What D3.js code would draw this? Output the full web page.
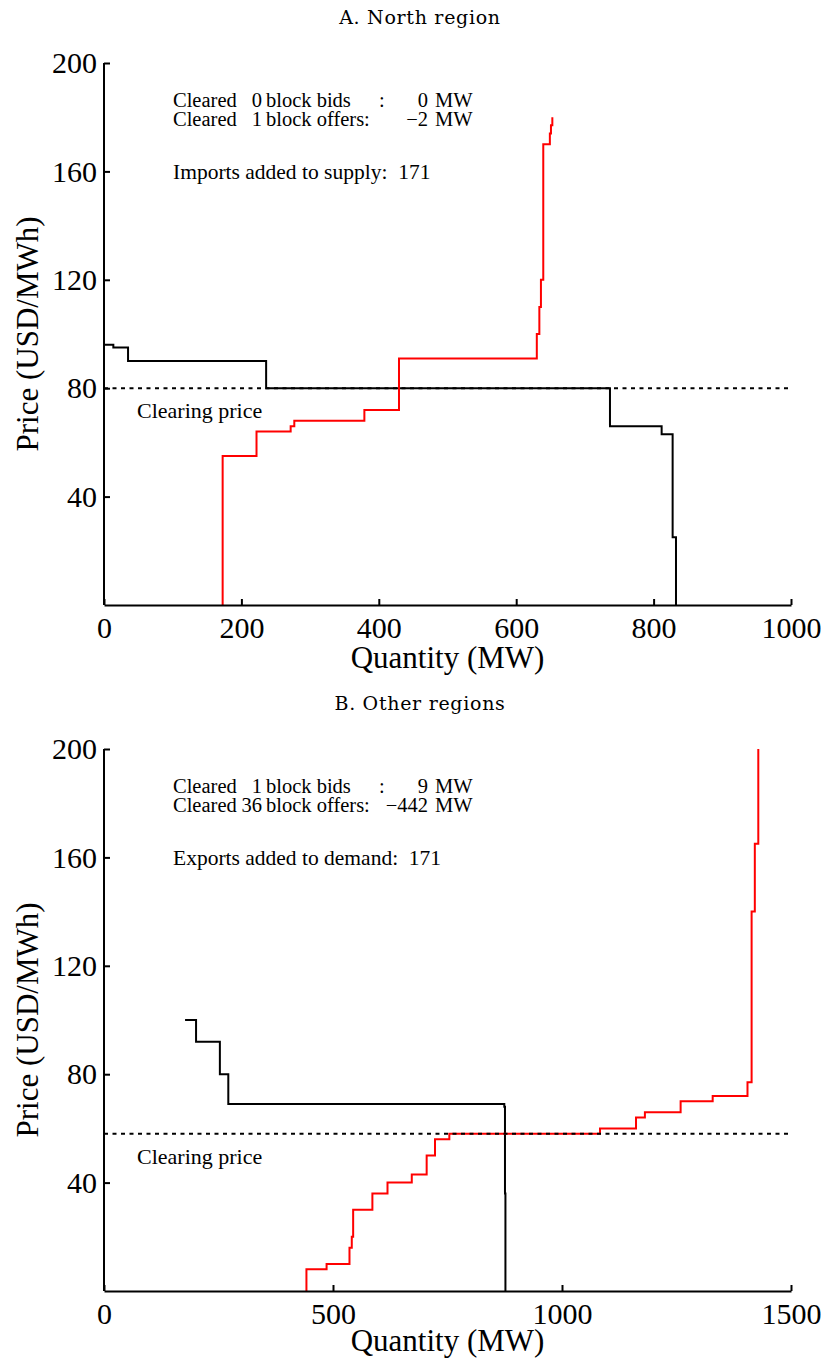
<!DOCTYPE html>
<html>
<head>
<meta charset="utf-8">
<script src="https://cdn.jsdelivr.net/npm/d3@7"></script>
<style>
  body { margin: 0; background: #fff; }
  text { font-family: "Liberation Serif", "Times New Roman", serif; fill: #000; }
</style>
</head>
<body>
<div class="canvas"></div>
<script>
// A. North region
const northDemandQty = [0, 13.6, 35, 236, 736.5, 811.7, 827.7, 832.6]
const northDemandPrice = [96, 95, 90, 80, 66, 63, 25, 0]
const northSupplyQty = [172.7, 172.7, 222, 271.7, 277, 379, 429.4, 630, 633.7, 636, 639.4, 649, 650.6, 652.6]
const northSupplyPrice = [0, 55, 64, 66, 68, 72, 91, 100, 110, 120, 170, 174, 177, 180]
const northClearing = 80
const northXTicks = [0, 200, 400, 600, 800, 1000]
const northNotes = [
  ['Cleared', '0', 'block bids', ':', '0', 'MW'],
  ['Cleared', '1', 'block offers:', '', '\u22122', 'MW']
]
const northExtra = 'Imports added to supply:  171'

// B. Other regions
const otherDemandQty = [177, 201, 253, 271.4, 874, 875.5, 876.5]
const otherDemandPrice = [100, 92, 80, 69, 68, 36, 0]
const otherSupplyQty = [440, 442, 486, 536, 541, 544, 586, 619, 672, 704.5, 722.7, 754, 1083, 1161.6, 1181, 1259, 1329, 1405, 1414, 1421, 1428.6]
const otherSupplyPrice = [0, 8, 10, 16, 20, 30, 36, 40, 43, 50, 56, 58, 60, 64, 66, 70, 72, 77, 140, 165, 200]
const otherClearing = 58
const otherXTicks = [0, 500, 1000, 1500]
const otherNotes = [
  ['Cleared', '1', 'block bids', ':', '9', 'MW'],
  ['Cleared', '36', 'block offers:', '', '\u2212442', 'MW']
]
const otherExtra = 'Exports added to demand:  171'

const yTicks = [40, 80, 120, 160, 200]

const svg = d3.select('.canvas')
  .append('svg')
  .attr('width', 827)
  .attr('height', 1360)

svg.append('rect').attr('width', 827).attr('height', 1360).attr('fill', '#fff')

const plot = { left: 104, right: 791, height: 542 }

const panels = [
  { title: 'A. North region', top: 63, xMax: 1000, xTicks: northXTicks, labelGap: 63,
    demand: northDemandQty.map((q, i) => [q, northDemandPrice[i]]),
    supply: northSupplyQty.map((q, i) => [q, northSupplyPrice[i]]),
    clearing: northClearing, notes: northNotes, extra: northExtra },
  { title: 'B. Other regions', top: 749, xMax: 1500, xTicks: otherXTicks, labelGap: 60,
    demand: otherDemandQty.map((q, i) => [q, otherDemandPrice[i]]),
    supply: otherSupplyQty.map((q, i) => [q, otherSupplyPrice[i]]),
    clearing: otherClearing, notes: otherNotes, extra: otherExtra }
]

panels.forEach(p => {
  const bottom = p.top + plot.height

  const x = d3.scaleLinear().domain([0, p.xMax]).range([plot.left, plot.right])
  const y = d3.scaleLinear().domain([0, 200]).range([bottom, p.top])

  const line = d3.line()
    .x(d => x(d[0]))
    .y(d => y(d[1]))
    .curve(d3.curveStepAfter)

  // title
  svg.append('text')
    .attr('x', 420)
    .attr('y', p.top - 39)
    .attr('text-anchor', 'middle')
    .style('font-family', '"DejaVu Serif", serif')
    .style('font-size', '19px')
    .style('letter-spacing', '0.7px')
    .text(p.title)

  // curves
  svg.append('path')
    .attr('d', line(p.demand))
    .attr('fill', 'none')
    .attr('stroke', '#000')
    .attr('stroke-width', 2)

  svg.append('path')
    .attr('d', line(p.supply))
    .attr('fill', 'none')
    .attr('stroke', '#ff0000')
    .attr('stroke-width', 2)

  // clearing price
  svg.append('line')
    .attr('x1', plot.left).attr('x2', plot.right - 2)
    .attr('y1', y(p.clearing)).attr('y2', y(p.clearing))
    .attr('stroke', '#000')
    .attr('stroke-width', 2)
    .attr('stroke-dasharray', '4,4.5')

  svg.append('text')
    .attr('x', 137)
    .attr('y', y(p.clearing) + 30)
    .style('font-size', '22px')
    .text('Clearing price')

  // axes
  const xAxis = d3.axisBottom(x)
    .tickValues(p.xTicks)
    .tickFormat(d3.format('d'))
    .tickSizeInner(-6)
    .tickSizeOuter(0)
    .tickPadding(12)

  const yAxis = d3.axisLeft(y)
    .tickValues(yTicks)
    .tickSizeInner(-6)
    .tickSizeOuter(0)
    .tickPadding(7)

  const gx = svg.append('g')
    .attr('transform', `translate(0, ${bottom})`)
    .call(xAxis)
  const gy = svg.append('g')
    .attr('transform', `translate(${plot.left}, 0)`)
    .call(yAxis)

  ;[gx, gy].forEach(g => {
    g.select('.domain').attr('stroke-width', 2)
    g.selectAll('.tick line').attr('stroke-width', 2)
    g.selectAll('text')
      .style('font-family', '"Liberation Serif", "Times New Roman", serif')
      .style('font-size', '30px')
  })
  gy.select('.domain').attr('d', `M0,${bottom}V${p.top}`)

  svg.append('text')
    .attr('x', (plot.left + plot.right) / 2)
    .attr('y', bottom + p.labelGap)
    .attr('text-anchor', 'middle')
    .style('font-size', '31px')
    .text('Quantity (MW)')

  svg.append('text')
    .attr('transform', `translate(38, ${p.top + plot.height / 2}) rotate(-90)`)
    .attr('text-anchor', 'middle')
    .style('font-size', '31px')
    .text('Price (USD/MWh)')

  // cleared block notes
  p.notes.forEach((n, i) => {
    const yy = p.top + 44 + i * 19
    const g = svg.append('g').style('font-size', '20.5px')
    g.append('text').attr('x', 173).attr('y', yy).text(n[0])
    g.append('text').attr('x', 262).attr('y', yy).attr('text-anchor', 'end').text(n[1])
    g.append('text').attr('x', 266).attr('y', yy).text(n[2])
    g.append('text').attr('x', 379).attr('y', yy).text(n[3])
    g.append('text').attr('x', 428).attr('y', yy).attr('text-anchor', 'end').text(n[4])
    g.append('text').attr('x', 435).attr('y', yy).text(n[5])
  })

  svg.append('text')
    .attr('x', 173)
    .attr('y', p.top + 116)
    .style('font-size', '21.5px')
    .style('white-space', 'pre')
    .text(p.extra)
})
</script>
</body>
</html>
